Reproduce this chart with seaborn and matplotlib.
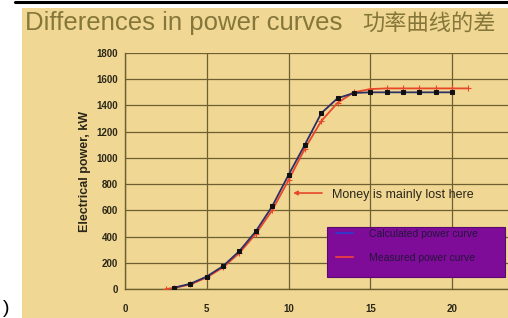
import matplotlib
matplotlib.use("Agg")
import matplotlib.pyplot as plt
from matplotlib.patches import Rectangle
from matplotlib.lines import Line2D
import seaborn as sns

# wind speed (m/s) and electrical power (kW)
calc_speed = [3, 4, 5, 6, 7, 8, 9, 10, 11, 12, 13, 14, 15, 16, 17, 18, 19, 20]
calc_power = [10, 40, 95, 175, 290, 440, 630, 870, 1100, 1340, 1455, 1495,
              1500, 1500, 1500, 1500, 1500, 1500]

meas_speed = [2.5, 3, 4, 5, 6, 7, 8, 9, 10, 11, 12, 13, 14, 15, 16, 17, 18, 19, 20, 21]
meas_power = [0, 8, 35, 88, 165, 275, 420, 600, 830, 1070, 1280, 1420, 1500,
              1525, 1530, 1530, 1530, 1530, 1530, 1530]

x_ticks = [0, 5, 10, 15, 20]
y_ticks = [0, 200, 400, 600, 800, 1000, 1200, 1400, 1600, 1800]

title_en = "Differences in power curves"
title_cn = "功率曲线的差"
y_label = "Electrical power, kW"
note = "Money is mainly lost here"
legend_labels = ["Calculated power curve", "Measured power curve"]

# colours
bg = "#F0D894"
grid_c = "#6E5F30"
text_c = "#2B2618"
title_c = "#85763A"
calc_c = "#2E2E66"
meas_c = "#E8472A"
purple = "#7E0C98"

W, H = 508, 318

sns.set_style("white")
plt.rcParams["font.family"] = ["Liberation Sans", "Noto Sans CJK SC", "DejaVu Sans"]

fig = plt.figure(figsize=(W / 100, H / 100), dpi=100)
fig.patch.set_facecolor("white")

# yellow slide area + top border line
fig.add_artist(Rectangle((22 / W, 0), 1, (H - 8) / H, transform=fig.transFigure,
                         facecolor=bg, edgecolor="none", zorder=-10))
fig.add_artist(Line2D([15 / W, 1], [1 - 1.5 / H] * 2, transform=fig.transFigure,
                      color="black", lw=2.2))

fig.text(25 / W, 1 - 30 / H, title_en, fontsize=18.5, color=title_c, va="baseline")
fig.text(362 / W, 1 - 30 / H, title_cn, fontsize=16, color=title_c, va="baseline",
         family=["Noto Sans CJK SC", "DejaVu Sans"])
fig.text(3 / W, 1 / H, ")", fontsize=14, color="black", va="bottom", ha="left")

# plot area
ax = fig.add_axes([125 / W, 29 / H, (W - 125) / W, 236 / H])
ax.set_facecolor("none")

sns.lineplot(x=calc_speed, y=calc_power, ax=ax, color=calc_c, lw=1.3,
             marker="s", markersize=2.2, markeredgecolor="#111111",
             markerfacecolor="#111111", zorder=4)
sns.lineplot(x=meas_speed, y=meas_power, ax=ax, color=meas_c, lw=1.3,
             marker="+", markersize=4, markeredgecolor=meas_c, mew=0.8, zorder=3)

ax.set_xlim(0, (W - 125) / 16.35)
ax.set_ylim(0, 1800)
ax.set_xticks(x_ticks)
ax.set_yticks(y_ticks)
ax.grid(True, color=grid_c, lw=0.9)
ax.set_axisbelow(True)
for s in ["top", "right"]:
    ax.spines[s].set_visible(False)
for s in ["left", "bottom"]:
    ax.spines[s].set_color(grid_c)
    ax.spines[s].set_linewidth(1.0)

ax.tick_params(axis="y", length=3, pad=2, color=grid_c, labelsize=7, labelcolor=text_c)
ax.tick_params(axis="x", length=3, pad=8, color=grid_c, labelsize=7, labelcolor=text_c)
for lab in ax.get_xticklabels() + ax.get_yticklabels():
    lab.set_fontweight("bold")

ax.set_ylabel(y_label, fontsize=9, fontweight="bold", color=text_c, labelpad=4)
ax.set_xlabel("")

# annotation
ax.annotate("", xy=(10.28, 732), xytext=(12.05, 732),
            arrowprops=dict(arrowstyle="-|>", color=meas_c, lw=1.2,
                            mutation_scale=6, shrinkA=0, shrinkB=0))
ax.text(12.66, 717, note, fontsize=9, color=text_c, va="center", ha="left")

# purple legend box
fig.add_artist(Rectangle((327 / W, 1 - 277 / H), 178 / W, 50 / H,
                         transform=fig.transFigure, facecolor=purple,
                         edgecolor="#5A0870", lw=0.8, zorder=1))
handles = [Line2D([], [], color="#3535C8", lw=1.5),
           Line2D([], [], color="#E03A4A", lw=1.5)]
leg = fig.legend(handles, legend_labels, loc="upper left",
                 bbox_to_anchor=(333 / W, 1 - 226 / H), frameon=False,
                 fontsize=7.5, handlelength=1.6, handletextpad=1.6,
                 labelspacing=1.3, borderaxespad=0, borderpad=0.3)
for t in leg.get_texts():
    t.set_color("#24153A")

fig.savefig("out.png", dpi=100, facecolor=fig.get_facecolor())
